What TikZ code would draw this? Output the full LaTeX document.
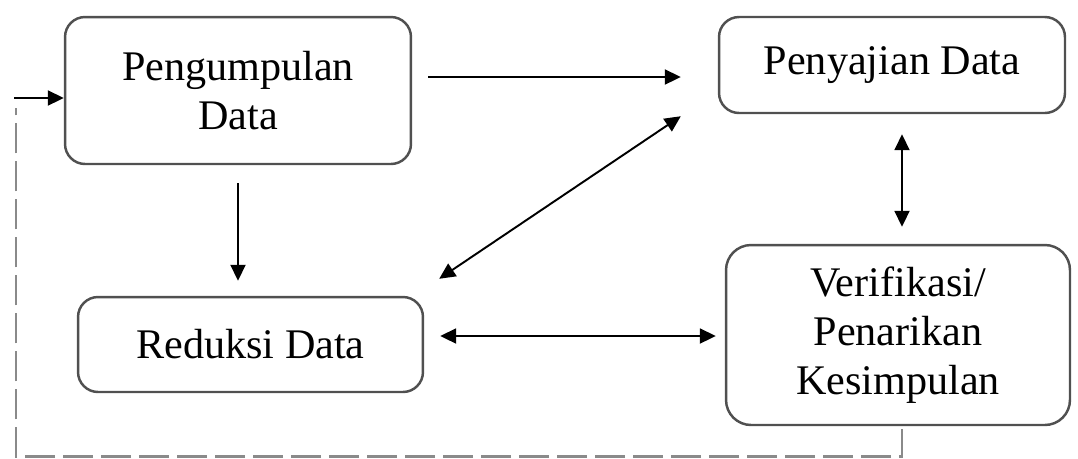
\documentclass[tikz,border=0pt]{standalone}
\usepackage{fontspec}
\setmainfont{Liberation Serif}
\usepackage{tikz}
\usetikzlibrary{calc,arrows.meta,positioning}
\definecolor{edgec}{HTML}{505050}
\definecolor{dashc}{HTML}{8A8A8A}
\tikzset{
  box/.style={draw=edgec,line width=1.4pt,rounded corners=0.4cm,align=center,inner sep=0pt,
    font=\fontsize{24}{28}\selectfont},
  ar/.style={-{Triangle[length=0.32cm,width=0.3cm]},line width=1.1pt,black},
  dar/.style={{Triangle[length=0.32cm,width=0.3cm]}-{Triangle[length=0.32cm,width=0.3cm]},line width=1.1pt,black},
  back/.style={dashc,line width=1.6pt,dash pattern=on 0.6cm off 0.16cm}
}

\begin{document}
\begin{tikzpicture}[x=0.02cm,y=-0.02cm]
\useasboundingbox (0,0) rectangle (1078,458);
\node[box,minimum width=6.92cm,minimum height=2.94cm] (pengumpulan) at (238,90.5) {Pengumpulan\\Data};
\node[box,minimum width=6.92cm,minimum height=1.92cm] (penyajian) at (892,65) {Penyajian Data};
\node[box,minimum width=6.90cm,minimum height=1.90cm] (reduksi) at (250.5,344.5) {Reduksi Data};
\node[box,minimum width=6.88cm,minimum height=3.60cm,rounded corners=0.5cm] (verifikasi) at (898,335) {Verifikasi/\\Penarikan\\Kesimpulan};
% arrows between the steps
\draw[ar] ($(pengumpulan.east)+(16,-13.5)$) -- ($(penyajian.west)+(-37,12)$);
\draw[ar] ($(pengumpulan.south)+(0,18)$) -- ($(pengumpulan.south |- reduksi.north)+(0,-15)$);
\draw[dar] ($(penyajian.south west)+(-37,2)$) -- ($(reduksi.north east)+(15,-17)$);
\draw[dar] ($(penyajian.south)+(10,20)$) -- ($(verifikasi.north)+(4,-17)$);
\draw[dar] ($(reduksi.east)+(16,-8.5)$) -- ($(verifikasi.west)+(-9,1)$);
% feedback loop
\coordinate (fb) at (16,98);
\draw[back] ($(verifikasi.south)+(4,3)$) -- ++(0,27) -| ($(fb)+(0,10)$);
\draw[ar] ($(fb)+(-2,0)$) -- (fb -| pengumpulan.west);
\end{tikzpicture}
\end{document}
